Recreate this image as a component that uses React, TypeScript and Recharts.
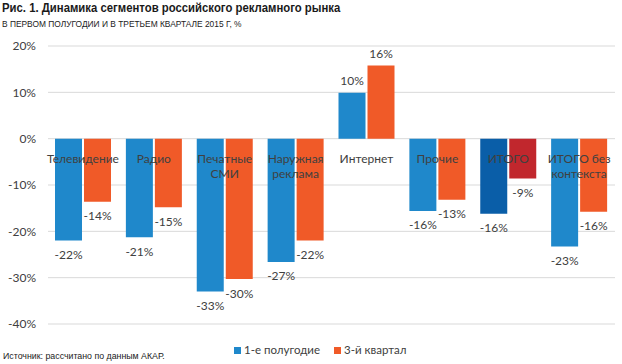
import React from 'react';
import { BarChart, Bar, XAxis, YAxis, CartesianGrid, LabelList, Cell } from 'recharts';

const categories = ['Телевидение', 'Радио', 'Печатные СМИ', 'Наружная реклама', 'Интернет', 'Прочие', 'ИТОГО', 'ИТОГО без контекста'];
const categoryLines = [['Телевидение'], ['Радио'], ['Печатные', 'СМИ'], ['Наружная', 'реклама'], ['Интернет'], ['Прочие'], ['ИТОГО'], ['ИТОГО без', 'контекста']];
const firstHalf = [-22, -21.3, -33, -26.6, 9.9, -15.6, -16.2, -23.3];
const thirdQuarter = [-13.6, -14.8, -30.3, -22, 15.8, -13.2, -8.6, -15.8];
const yTicks = [-40, -30, -20, -10, 0, 10, 20];
const seriesNames = ['1-е полугодие', '3-й квартал'];
const highlightCategory = 'ИТОГО';

const title = 'Рис. 1. Динамика сегментов российского рекламного рынка';
const subtitle = 'В ПЕРВОМ ПОЛУГОДИИ И В ТРЕТЬЕМ КВАРТАЛЕ 2015 Г, %';
const source = 'Источник: рассчитано по данным АКАР.';

const BLUE = '#1f88cb';
const ORANGE = '#f05a28';
const DARK_BLUE = '#0a5ea8';
const RED = '#c1272d';
const TEXT = '#404040';
const FONT = 'Lato, "Open Sans", sans-serif';
const BAR_GAP = 2;

const data = categories.map((c, i) => ({ name: c, h1: firstHalf[i], q3: thirdQuarter[i] }));

function rectOf(props: any) {
  const vb = props.viewBox && props.viewBox.width !== undefined ? props.viewBox : props;
  return { x: Number(vb.x), y: Number(vb.y), width: Number(vb.width), height: Number(vb.height) };
}

function makeValueLabel(values: number[]) {
  return (props: any) => {
    const { x, y, width, height } = rectOf(props);
    const idx = props.index;
    const v = typeof props.value === 'number' ? props.value : values[idx];
    const top = Math.min(y, y + height);
    const bottom = Math.max(y, y + height);
    const cy = v < 0 ? bottom + 14 : top - 12;
    return (
      <text x={x + width / 2} y={cy} textAnchor="middle" dominantBaseline="central" fill={TEXT} fontSize={12} fontFamily={FONT}>
        {`${Math.round(v)}%`}
      </text>
    );
  };
}

const CategoryLabel = (props: any) => {
  const { x, y, height } = rectOf(props);
  const idx = props.index;
  const v = thirdQuarter[idx];
  const zero = v < 0 ? Math.min(y, y + height) : Math.max(y, y + height);
  const cx = x - BAR_GAP / 2;
  const lines = categoryLines[idx];
  return (
    <text x={cx} y={zero + 20} textAnchor="middle" fill={TEXT} fontSize={12} fontFamily={FONT}>
      {lines.map((l, i) => (
        <tspan key={i} x={cx} dy={i === 0 ? 0 : 15} dominantBaseline="central">{l}</tspan>
      ))}
    </text>
  );
};

export default function App() {
  return (
    <div style={{ position: 'absolute', left: 0, top: 0, width: 622, height: 364, background: '#fff', overflow: 'hidden' }}>
      <div style={{ position: 'absolute', left: 2, top: 0, fontFamily: '"Liberation Sans", Arial, sans-serif', fontWeight: 700, fontSize: 13.5, color: '#1a1a1a', whiteSpace: 'nowrap', lineHeight: '15px', transform: 'scaleX(0.84)', transformOrigin: 'left top' }}>
        {title}
      </div>
      <div style={{ position: 'absolute', left: 2, top: 19, fontFamily: '"Liberation Sans", Arial, sans-serif', fontSize: 8.4, color: '#222', whiteSpace: 'nowrap', lineHeight: '10px' }}>
        {subtitle}
      </div>
      <div style={{ position: 'absolute', left: 0, top: 0 }}>
        <BarChart width={622} height={364} data={data} margin={{ top: 46, right: 7, bottom: 40, left: 8 }} barCategoryGap={7} barGap={BAR_GAP}>
          <CartesianGrid vertical={false} stroke="#d9d9d9" />
          <XAxis dataKey="name" hide />
          <YAxis
            width={40}
            domain={[-40, 20]}
            ticks={yTicks}
            axisLine={false}
            tickLine={false}
            tickMargin={6}
            tickFormatter={(v: number) => `${v}%`}
            tick={{ fill: TEXT, fontSize: 12, fontFamily: FONT }}
            interval={0}
          />
          <Bar dataKey="h1" name={seriesNames[0]} fill={BLUE} isAnimationActive={false}>
            {data.map((d, i) => (
              <Cell key={i} fill={d.name === highlightCategory ? DARK_BLUE : BLUE} />
            ))}
            <LabelList dataKey="h1" content={makeValueLabel(firstHalf)} />
          </Bar>
          <Bar dataKey="q3" name={seriesNames[1]} fill={ORANGE} isAnimationActive={false}>
            {data.map((d, i) => (
              <Cell key={i} fill={d.name === highlightCategory ? RED : ORANGE} />
            ))}
            <LabelList dataKey="q3" content={makeValueLabel(thirdQuarter)} />
            <LabelList dataKey="q3" content={CategoryLabel} />
          </Bar>
        </BarChart>
      </div>
      <div style={{ position: 'absolute', left: 3, top: 351, fontFamily: '"Liberation Sans", Arial, sans-serif', fontSize: 8.8, color: '#222', whiteSpace: 'nowrap', lineHeight: '11px' }}>
        {source}
      </div>
      <div style={{ position: 'absolute', left: 234, top: 342, display: 'flex', alignItems: 'center', fontFamily: FONT, fontSize: 11.5, color: TEXT, whiteSpace: 'nowrap', lineHeight: '16px' }}>
        {seriesNames.map((n, i) => (
          <span key={n} style={{ display: 'flex', alignItems: 'center', marginRight: i === 0 ? 14 : 0 }}>
            <span style={{ width: 7, height: 7, background: i === 0 ? BLUE : ORANGE, marginRight: 3, display: 'inline-block' }} />
            {n}
          </span>
        ))}
      </div>
    </div>
  );
}
